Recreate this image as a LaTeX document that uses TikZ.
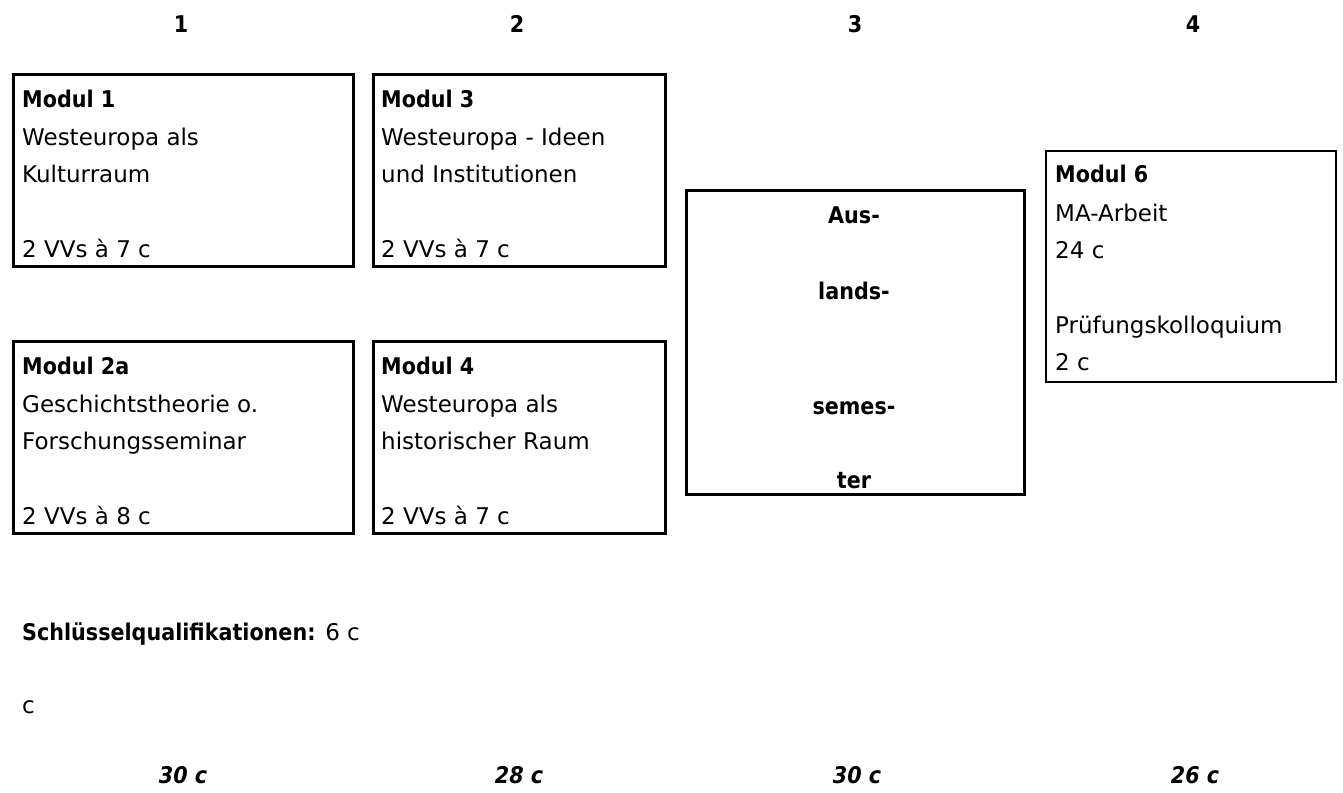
\documentclass[tikz,border=0pt]{standalone}
\usepackage{fontspec}
\setmainfont{DejaVu Sans}[BoldFeatures={FakeStretch=0.9},BoldItalicFeatures={FakeStretch=0.9}]
\begin{document}
\begin{tikzpicture}[x=1pt,y=-1pt,
  box/.style={draw, line width=3pt, inner sep=0pt, anchor=north west},
  thinbox/.style={draw, line width=2pt, inner sep=0pt, anchor=north west},
  txt/.style={anchor=base west, inner sep=0pt, font=\fontsize{23}{27}\selectfont},
  btxt/.style={txt, font=\fontsize{23}{27}\selectfont\bfseries},
  ctxt/.style={anchor=base, inner sep=0pt, font=\fontsize{23}{27}\selectfont\bfseries},
  sumtxt/.style={anchor=base, inner sep=0pt, font=\fontsize{23}{27}\selectfont\bfseries\itshape}]
\useasboundingbox[fill=white] (0,0) rectangle (1343,792);
% column headers
\node[ctxt] (h1) at (181,33) {1};
\node[ctxt] (h2) at (517,33) {2};
\node[ctxt] (h3) at (855,33) {3};
\node[ctxt] (h4) at (1193,33) {4};
% boxes
\node[box, minimum width=340pt, minimum height=192pt] (m1) at (12,73) {};
\node[box, minimum width=292pt, minimum height=192pt] (m3) at (372,73) {};
\node[box, minimum width=340pt, minimum height=192pt] (m2a) at (12,340) {};
\node[box, minimum width=292pt, minimum height=192pt] (m4) at (372,340) {};
\node[box, minimum width=338pt, minimum height=304pt] (aus) at (685,189) {};
\node[thinbox, minimum width=290pt, minimum height=231pt] (m6) at (1045,150) {};
% Modul 1
\node[btxt] (m1a) at (22,107) {Modul 1};
\node[txt] (m1b) at (22,145) {Westeuropa als};
\node[txt] (m1c) at (22,182) {Kulturraum};
\node[txt] (m1d) at (22,257) {2 VVs à 7 c};
% Modul 3
\node[btxt] (m3a) at (381,107) {Modul 3};
\node[txt] (m3b) at (381,145) {Westeuropa - Ideen};
\node[txt] (m3c) at (381,182) {und Institutionen};
\node[txt] (m3d) at (381,257) {2 VVs à 7 c};
% Modul 2a
\node[btxt] (m2a1) at (22,374) {Modul 2a};
\node[txt] (m2a2) at (22,412) {Geschichtstheorie o.};
\node[txt] (m2a3) at (22,449) {Forschungsseminar};
\node[txt] (m2a4) at (22,524) {2 VVs à 8 c};
% Modul 4
\node[btxt] (m4a) at (381,374) {Modul 4};
\node[txt] (m4b) at (381,412) {Westeuropa als};
\node[txt] (m4c) at (381,449) {historischer Raum};
\node[txt] (m4d) at (381,524) {2 VVs à 7 c};
% Auslandssemester
\node[ctxt] (a1) at (854,223) {Aus-};
\node[ctxt] (a2) at (854,299) {lands-};
\node[ctxt] (a3) at (854,414) {semes-};
\node[ctxt] (a4) at (854,488) {ter};
% Modul 6
\node[btxt] (m6a) at (1055,182) {Modul 6};
\node[txt] (m6b) at (1055,221) {MA-Arbeit};
\node[txt] (m6c) at (1055,258) {24 c};
\node[txt] (m6d) at (1055,333) {Prüfungskolloquium};
\node[txt] (m6e) at (1055,370) {2 c};
% bottom
\node[txt] (sq) at (22,640) {\textbf{Schlüsselqualifikationen:} 6 c};
\node[txt] (cc) at (22,713) {c};
\node[sumtxt] (s1) at (183,783) {30 c};
\node[sumtxt] (s2) at (519,783) {28 c};
\node[sumtxt] (s3) at (857,783) {30 c};
\node[sumtxt] (s4) at (1195,783) {26 c};
\end{tikzpicture}
\end{document}
